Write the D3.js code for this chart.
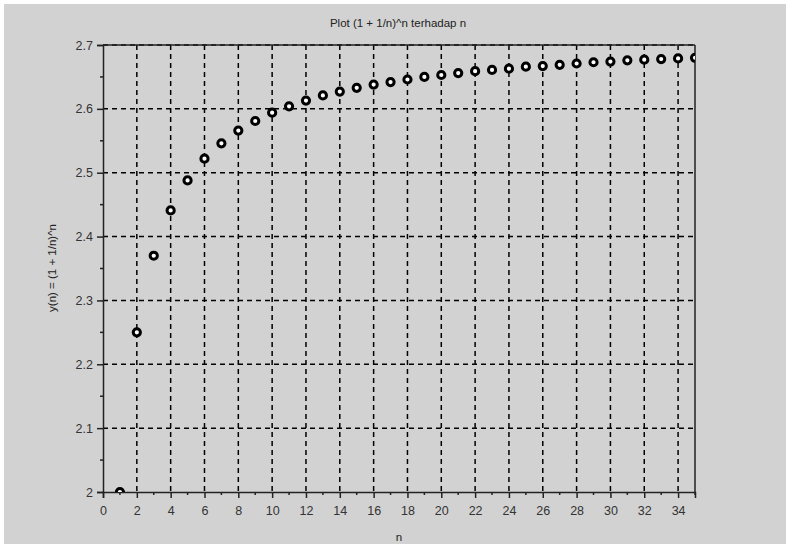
<!DOCTYPE html>
<html>
<head>
<meta charset="utf-8">
<script src="https://cdn.jsdelivr.net/npm/d3@7"></script>
<style>
  body { margin: 0; background: #fff; }
  svg text { font-family: "Liberation Sans", Arial, sans-serif; }
</style>
</head>
<body>
<svg id="chart" width="786" height="544"></svg>
<script>
// values
const nValues = [1, 2, 3, 4, 5, 6, 7, 8, 9, 10, 11, 12, 13, 14, 15, 16, 17, 18,
    19, 20, 21, 22, 23, 24, 25, 26, 27, 28, 29, 30, 31, 32, 33, 34, 35];
const yValues = [2.000, 2.250, 2.370, 2.441, 2.488, 2.522, 2.546, 2.566, 2.581,
    2.594, 2.604, 2.613, 2.621, 2.627, 2.633, 2.638, 2.642, 2.646, 2.650, 2.653,
    2.656, 2.659, 2.661, 2.663, 2.666, 2.667, 2.669, 2.671, 2.673, 2.674, 2.676,
    2.677, 2.678, 2.679, 2.680];
const xTicks = [0, 2, 4, 6, 8, 10, 12, 14, 16, 18, 20, 22, 24, 26, 28, 30, 32, 34];
const xMinorTicks = [1, 3, 5, 7, 9, 11, 13, 15, 17, 19, 21, 23, 25, 27, 29, 31, 33, 35];
const yTicks = [2, 2.1, 2.2, 2.3, 2.4, 2.5, 2.6, 2.7];
const yMinorTicks = [2.05, 2.15, 2.25, 2.35, 2.45, 2.55, 2.65];

const svg = d3.select("#chart");
const margin = { top: 45, right: 91, bottom: 52, left: 103 };
const width = +svg.attr("width");
const height = +svg.attr("height");
const innerWidth = width - margin.left - margin.right;
const innerHeight = height - margin.top - margin.bottom;

// gray panel with thin white border top/left
svg.append("rect").attr("x", 4).attr("y", 4)
    .attr("width", width - 4).attr("height", height - 4)
    .attr("fill", "#d2d2d2");

const x = d3.scaleLinear().domain([0, 35]).range([0, innerWidth]);
const y = d3.scaleLinear().domain([2, 2.7]).range([innerHeight, 0]);

const g = svg.append("g").attr("transform", `translate(${margin.left},${margin.top})`);

svg.append("defs").append("clipPath").attr("id", "clip")
    .append("rect").attr("width", innerWidth).attr("height", innerHeight);

// dashed grid
g.selectAll(".vgrid").data(xTicks.filter(d => d > 0)).enter().append("line")
    .attr("class", "vgrid")
    .attr("x1", d => x(d)).attr("x2", d => x(d))
    .attr("y1", 0).attr("y2", innerHeight)
    .attr("stroke", "#000").attr("stroke-width", 1.5)
    .attr("stroke-dasharray", "5,4");

g.selectAll(".hgrid").data(yTicks.filter(d => d > 2)).enter().append("line")
    .attr("class", "hgrid")
    .attr("x1", 0).attr("x2", innerWidth)
    .attr("y1", d => y(d)).attr("y2", d => y(d))
    .attr("stroke", "#000").attr("stroke-width", 1.5)
    .attr("stroke-dasharray", "5,4");

// frame: top and right lines
g.append("line").attr("x1", 0).attr("x2", innerWidth).attr("y1", 0).attr("y2", 0)
    .attr("stroke", "#222").attr("stroke-width", 1.5);
g.append("line").attr("x1", innerWidth).attr("x2", innerWidth).attr("y1", 0).attr("y2", innerHeight)
    .attr("stroke", "#222").attr("stroke-width", 1.5);

// axes
const xAxis = d3.axisBottom(x).tickValues(xTicks).tickSize(6).tickPadding(8);
const yAxis = d3.axisLeft(y).tickValues(yTicks).tickSize(6).tickPadding(4)
    .tickFormat(d3.format("~g"));

const gx = g.append("g").attr("transform", `translate(0,${innerHeight})`).call(xAxis);
const gy = g.append("g").call(yAxis);

[gx, gy].forEach(ax => {
    ax.select(".domain").attr("stroke", "#222").attr("stroke-width", 1.5);
    ax.selectAll(".tick line").attr("stroke", "#222").attr("stroke-width", 1.5);
    ax.selectAll(".tick text").attr("fill", "#333").attr("font-size", 12.5);
});

// minor ticks
gx.selectAll(".minor").data(xMinorTicks).enter().append("line")
    .attr("x1", d => x(d)).attr("x2", d => x(d))
    .attr("y1", 0).attr("y2", 3)
    .attr("stroke", "#222").attr("stroke-width", 1.5);
gy.selectAll(".minor").data(yMinorTicks).enter().append("line")
    .attr("x1", -3).attr("x2", 0)
    .attr("y1", d => y(d)).attr("y2", d => y(d))
    .attr("stroke", "#222").attr("stroke-width", 1.5);

// points
g.append("g").attr("clip-path", "url(#clip)")
    .selectAll("circle").data(nValues).enter().append("circle")
    .attr("cx", d => x(d))
    .attr("cy", (d, i) => y(yValues[i]))
    .attr("r", 3.6)
    .attr("fill", "#fff")
    .attr("stroke", "#000")
    .attr("stroke-width", 3);

// labels
svg.append("text")
    .attr("x", 398).attr("y", 27)
    .attr("text-anchor", "middle")
    .attr("font-size", 11.5).attr("fill", "#222")
    .text("Plot (1 + 1/n)^n terhadap n");

svg.append("text")
    .attr("x", 399).attr("y", 541)
    .attr("text-anchor", "middle")
    .attr("font-size", 11.5).attr("fill", "#222")
    .text("n");

svg.append("text")
    .attr("transform", "translate(56,268) rotate(-90)")
    .attr("text-anchor", "middle")
    .attr("font-size", 11.5).attr("fill", "#222")
    .text("y(n) = (1 + 1/n)^n");
</script>
</body>
</html>
